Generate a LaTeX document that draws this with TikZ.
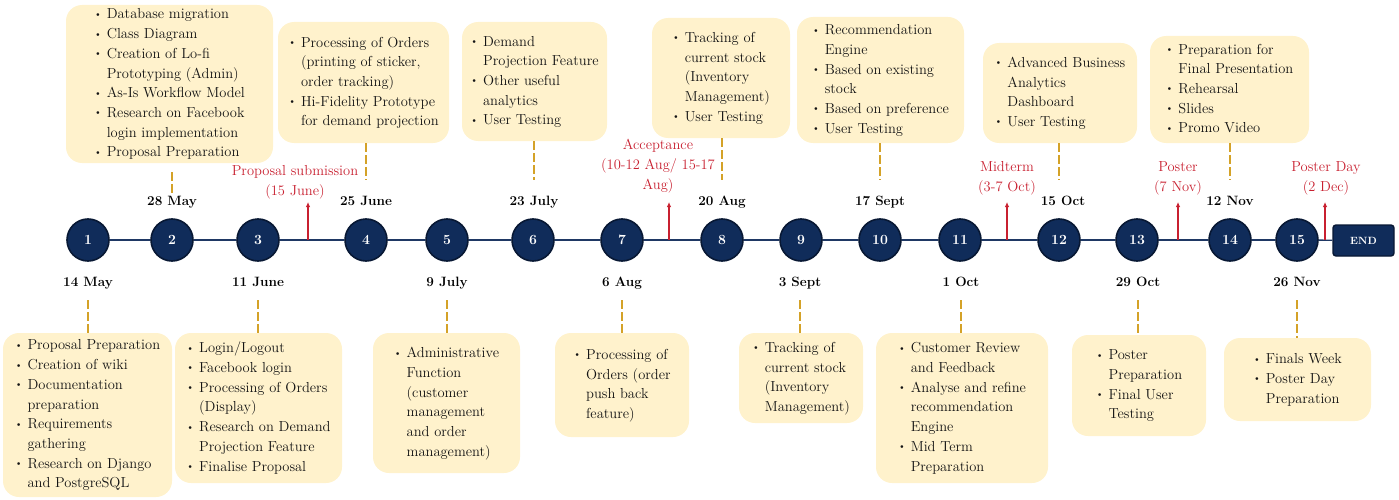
\documentclass[tikz,border=0pt]{standalone}
\usepackage{graphicx}
\usetikzlibrary{arrows.meta}
\definecolor{boxfill}{RGB}{255,242,204}
\definecolor{navy}{RGB}{16,44,90}
\definecolor{navyedge}{RGB}{8,24,52}
\definecolor{navyline}{RGB}{31,56,100}
\definecolor{gold}{RGB}{212,162,40}
\definecolor{milered}{RGB}{200,32,48}
\newcommand{\bu}{\raisebox{0.25ex}{\scalebox{0.7}{\textbullet}}}
\newcommand{\fs}{\fontsize{14.5}{19.7}\selectfont}
\newenvironment{blist}{\begin{tabular}{@{}c@{\hspace{5pt}}l@{}}}{\end{tabular}}
\tikzset{
  taskbox/.style={fill=boxfill, rounded corners=16pt, inner sep=0pt, font=\fs, text=black!92},
  datelbl/.style={font=\fontsize{13.5}{16}\selectfont\bfseries, inner sep=0pt, text height=9.5pt, text depth=3pt, text=black},
  weekc/.style={circle, fill=navy, draw=navyedge, line width=1.6pt, minimum size=42pt, inner sep=0pt, text=white, font=\fontsize{14}{16}\selectfont\bfseries},
  endbox/.style={rectangle, rounded corners=3pt, fill=navy, draw=navyedge, line width=1.4pt, minimum width=61pt, minimum height=31pt, inner sep=0pt, text=white, font=\fontsize{10.5}{12}\selectfont\bfseries},
  golddash/.style={draw=gold, line width=1.5pt, dash pattern=on 9pt off 3pt},
  redmark/.style={draw=milered, line width=1.2pt, -{Latex[length=5pt,width=4.5pt]}},
  redlbl/.style={text=milered, font=\fs, align=center, inner sep=0pt, anchor=south},
  tline/.style={draw=navyline, line width=1.4pt},
}
\begin{document}
\begin{tikzpicture}[x=1pt,y=-1pt]
\useasboundingbox (0,0) rectangle (1399,500);

% week circles
\foreach \n/\x in {1/88,2/172,3/258,4/366,5/447,6/533,7/622,8/722,9/801,10/880,11/960,12/1059,13/1137,14/1230,15/1297}
  \node[weekc] (c\n) at (\x,240) {\n};
\node[endbox] (endn) at (1363.5,240.5) {END};
\foreach \a/\b in {1/2,2/3,3/4,4/5,5/6,6/7,7/8,8/9,9/10,10/11,11/12,12/13,13/14,14/15}
  \draw[tline] (c\a) -- (c\b);
\draw[tline] (c15) -- (endn);

% dates
\node[datelbl] (dt2) at (172,202) {28 May};
\node[datelbl] (dt4) at (366,202) {25 June};
\node[datelbl] (dt6) at (534,202) {23 July};
\node[datelbl] (dt8) at (722,202) {20 Aug};
\node[datelbl] (dt10) at (880,202) {17 Sept};
\node[datelbl] (dt12) at (1063,202) {15 Oct};
\node[datelbl] (dt14) at (1230,202) {12 Nov};
\node[datelbl] (dt1) at (88,283) {14 May};
\node[datelbl] (dt3) at (258,283) {11 June};
\node[datelbl] (dt5) at (447,283) {9 July};
\node[datelbl] (dt7) at (622,283) {6 Aug};
\node[datelbl] (dt9) at (800,283) {3 Sept};
\node[datelbl] (dt11) at (961,283) {1 Oct};
\node[datelbl] (dt13) at (1138,283) {29 Oct};
\node[datelbl] (dt15) at (1297,283) {26 Nov};

% top boxes
\node[taskbox, minimum width=207pt, minimum height=158pt] (bA) at (169.5,84) {\begin{blist}
\bu & Database migration\\ \bu & Class Diagram\\ \bu & Creation of Lo-fi\\ & Prototyping (Admin)\\ \bu & As-Is Workflow Model\\ \bu & Research on Facebook\\ & login implementation\\ \bu & Proposal Preparation\end{blist}};
\node[taskbox, minimum width=171pt, minimum height=121pt] (bB) at (363.5,82.5) {\begin{blist}
\bu & Processing of Orders\\ & (printing of sticker,\\ & order tracking)\\ \bu & Hi-Fidelity Prototype\\ & for demand projection\end{blist}};
\node[taskbox, minimum width=145pt, minimum height=119pt] (bC) at (534.5,81.5) {\begin{blist}
\bu & Demand\\ & Projection Feature\\ \bu & Other useful\\ & analytics\\ \bu & User Testing\end{blist}};
\node[taskbox, minimum width=138pt, minimum height=120pt] (bD) at (721,78) {\begin{blist}
\bu & Tracking of\\ & current stock\\ & (Inventory\\ & Management)\\ \bu & User Testing\end{blist}};
\node[taskbox, minimum width=167pt, minimum height=126pt] (bE) at (880.5,80) {\begin{blist}
\bu & Recommendation\\ & Engine\\ \bu & Based on existing\\ & stock\\ \bu & Based on preference\\ \bu & User Testing\end{blist}};
\node[taskbox, minimum width=154pt, minimum height=100pt] (bF) at (1060,93) {\begin{blist}
\bu & Advanced Business\\ & Analytics\\ & Dashboard\\ \bu & User Testing\end{blist}};
\node[taskbox, minimum width=159pt, minimum height=107pt] (bG) at (1229.5,89.5) {\begin{blist}
\bu & Preparation for\\ & Final Presentation\\ \bu & Rehearsal\\ \bu & Slides\\ \bu & Promo Video\end{blist}};

% bottom boxes
\node[taskbox, minimum width=169pt, minimum height=164pt] (bH) at (87.5,415) {\begin{blist}
\bu & Proposal Preparation\\ \bu & Creation of wiki\\ \bu & Documentation\\ & preparation\\ \bu & Requirements\\ & gathering\\ \bu & Research on Django\\ & and PostgreSQL\end{blist}};
\node[taskbox, minimum width=167pt, minimum height=150pt] (bI) at (258.5,408) {\begin{blist}
\bu & Login/Logout\\ \bu & Facebook login\\ \bu & Processing of Orders\\ & (Display)\\ \bu & Research on Demand\\ & Projection Feature\\ \bu & Finalise Proposal\end{blist}};
\node[taskbox, minimum width=147pt, minimum height=140pt] (bJ) at (446.5,403) {\begin{blist}
\bu & Administrative\\ & Function\\ & (customer\\ & management\\ & and order\\ & management)\end{blist}};
\node[taskbox, minimum width=134pt, minimum height=104pt] (bK) at (622,385) {\begin{blist}
\bu & Processing of\\ & Orders (order\\ & push back\\ & feature)\end{blist}};
\node[taskbox, minimum width=124pt, minimum height=90pt] (bL) at (801,378) {\begin{blist}
\bu & Tracking of\\ & current stock\\ & (Inventory\\ & Management)\end{blist}};
\node[taskbox, minimum width=172pt, minimum height=150pt] (bM) at (962,408) {\begin{blist}
\bu & Customer Review\\ & and Feedback\\ \bu & Analyse and refine\\ & recommendation\\ & Engine\\ \bu & Mid Term\\ & Preparation\end{blist}};
\node[taskbox, minimum width=134pt, minimum height=101pt] (bN) at (1139,385.5) {\begin{blist}
\bu & Poster\\ & Preparation\\ \bu & Final User\\ & Testing\end{blist}};
\node[taskbox, minimum width=147pt, minimum height=83pt] (bO) at (1297.5,379.5) {\begin{blist}
\bu & Finals Week\\ \bu & Poster Day\\ & Preparation\end{blist}};

% dashed connectors (top): box -> date
\draw[golddash, shorten <=9pt, shorten >=1pt] (bA.south -| dt2) -- (dt2.north);
\draw[golddash, shorten >=16pt] (bB.south -| dt4) -- (dt4.north);
\draw[golddash, shorten >=16pt] (bC.south -| dt6) -- (dt6.north);
\draw[golddash, shorten >=16pt] (bD.south -| dt8) -- (dt8.north);
\draw[golddash, shorten >=16pt] (bE.south -| dt10) -- (dt10.north);
\draw[golddash, shorten >=16pt] (bF.south -| c12) -- (c12 |- dt12.north);
\draw[golddash, shorten >=16pt] (bG.south -| dt14) -- (dt14.north);
% dashed connectors (bottom): date -> box
\draw[golddash, shorten <=11pt] (dt1.south) -- (bH.north -| dt1);
\draw[golddash, shorten <=11pt] (dt3.south) -- (bI.north -| dt3);
\draw[golddash, shorten <=11pt] (dt5.south) -- (bJ.north -| dt5);
\draw[golddash, shorten <=11pt] (dt7.south) -- (bK.north -| dt7);
\draw[golddash, shorten <=11pt] (dt9.south) -- (bL.north -| dt9);
\draw[golddash, shorten <=11pt] (dt11.south) -- (bM.north -| dt11);
\draw[golddash, shorten <=11pt] (dt13.south) -- (bN.north -| dt13);
\draw[golddash, shorten <=11pt] (dt15.south) -- (bO.north -| dt15);

% milestones
\node[redlbl] (r1) at (295,199) {Proposal submission\\(15 June)};
\node[redlbl] (r2) at (658,193) {Acceptance\\(10-12 Aug/ 15-17\\Aug)};
\node[redlbl] (r3) at (1007,195) {Midterm\\(3-7 Oct)};
\node[redlbl] (r4) at (1178,195) {Poster\\(7 Nov)};
\node[redlbl] (r5) at (1326,195) {Poster Day\\(2 Dec)};
\coordinate (m1) at (308,240);
\coordinate (m2) at (669,240);
\coordinate (m3) at (1007,240);
\coordinate (m4) at (1178,240);
\coordinate (m5) at (1325,240);
\draw[redmark, shorten >=3pt] (m1) -- (m1 |- r1.south);
\draw[redmark, shorten >=9pt] (m2) -- (m2 |- r2.south);
\draw[redmark, shorten >=7pt] (m3) -- (m3 |- r3.south);
\draw[redmark, shorten >=7pt] (m4) -- (m4 |- r4.south);
\draw[redmark, shorten >=7pt] (m5) -- (m5 |- r5.south);
\end{tikzpicture}
\end{document}
